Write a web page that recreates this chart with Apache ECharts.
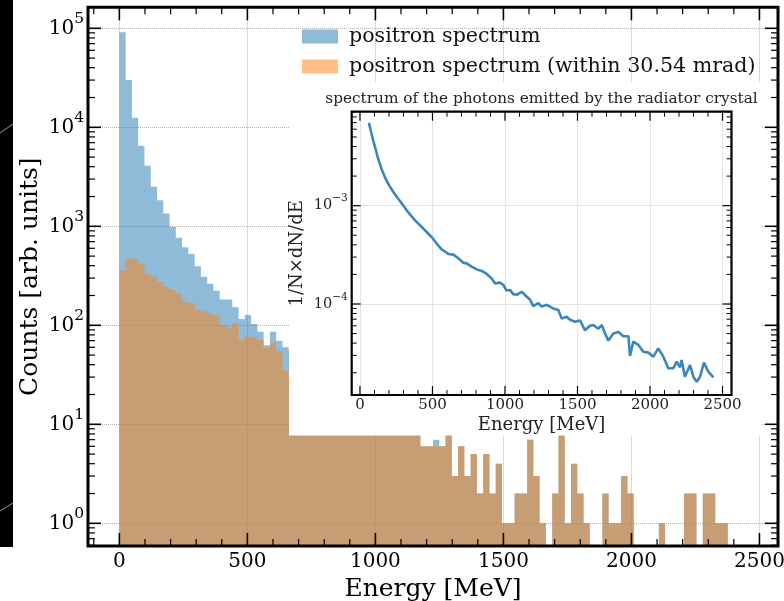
<!DOCTYPE html>
<html>
<head>
<meta charset="utf-8">
<script src="https://cdn.jsdelivr.net/npm/echarts@6.0.0/dist/echarts.min.js"></script>
<style>html,body{margin:0;padding:0;background:#fff;}#c{width:784px;height:601px;}</style>
</head>
<body>
<div id="c"></div>
<script>
// ---------------- data ----------------
const binWidth = 24.5;               // MeV, 100 bins from 0 to 2450 MeV
const seriesAllName = 'positron spectrum';
const seriesWithinName = 'positron spectrum (within 30.54 mrad)';

// counts per bin (all positrons)
const allCounts = [
  91200, 30100, 12500, 6520, 4090, 2510, 1830, 1350, 990, 767,
  614, 525, 395, 310, 263, 223, 182, 182, 152, 116,
  127, 103, 86, 63, 86, 70, 60, 55, 50, 46,
  44, 40, 37, 33, 31, 28, 26, 24, 22, 20,
  18, 17, 15, 14, 13, 12, 11, 10, 6, 6,
  7, 6, 9, 3, 6, 3, 5, 2, 5, 2,
  4, 1, 1, 2, 2, 7, 3, 1, 0, 2,
  8, 1, 4, 2, 1, 0, 0, 2, 1, 1,
  3, 2, 0, 0, 0, 0, 1, 0, 0, 0,
  2, 2, 0, 2, 2, 1, 1, 0, 0, 0
];
// counts per bin (within 30.54 mrad)
const withinCounts = [
  358, 470, 470, 420, 330, 310, 270, 245, 228, 208,
  173, 168, 143, 138, 133, 127, 100, 95, 105, 71,
  80, 76, 71, 59, 67, 55, 35, 34, 32, 30,
  28, 26, 24, 22, 21, 19, 18, 17, 16, 15,
  14, 13, 12, 11, 11, 10, 10, 9, 6, 6,
  6, 6, 9, 3, 6, 3, 5, 2, 5, 2,
  4, 1, 1, 2, 2, 7, 3, 1, 0, 2,
  8, 1, 4, 2, 1, 0, 0, 2, 1, 1,
  3, 2, 0, 0, 0, 0, 1, 0, 0, 0,
  2, 2, 0, 2, 2, 1, 1, 0, 0, 0
];

// inset: photon spectrum 1/N dN/dE
const photonEnergy = [
  62, 75, 90, 105, 125, 150, 175, 200, 230, 260,
  300, 340, 380, 420, 460, 500, 530, 563, 609, 644,
  678, 713, 736, 770, 805, 839, 874, 908, 931, 966,
  989, 1011, 1034, 1057, 1080, 1115, 1149, 1172, 1195, 1230,
  1253, 1287, 1333, 1368, 1391, 1425, 1448, 1483, 1517, 1552,
  1586, 1609, 1644, 1667, 1690, 1713, 1747, 1782, 1816, 1851,
  1862, 1885, 1920, 1954, 1989, 2023, 2057, 2092, 2126, 2161,
  2184, 2207, 2218, 2241, 2276, 2299, 2322, 2345, 2372, 2402, 2437
];
const photonValue = [
  6.98e-3, 5.75e-3, 4.68e-3, 3.89e-3, 3.02e-3, 2.34e-3, 1.91e-3, 1.62e-3, 1.38e-3, 1.20e-3,
  1.00e-3, 8.3e-4, 7.1e-4, 6.2e-4, 5.4e-4, 4.7e-4, 4.1e-4, 3.6e-4, 3.23e-4, 3.18e-4,
  2.92e-4, 2.63e-4, 2.59e-4, 2.40e-4, 2.25e-4, 2.17e-4, 2.02e-4, 1.82e-4, 1.62e-4, 1.65e-4,
  1.56e-4, 1.37e-4, 1.39e-4, 1.26e-4, 1.24e-4, 1.33e-4, 1.19e-4, 1.11e-4, 9.5e-5, 1.02e-4,
  9.4e-5, 9.8e-5, 9.0e-5, 8.7e-5, 7.1e-5, 7.4e-5, 6.9e-5, 6.6e-5, 6.8e-5, 5.4e-5,
  6.0e-5, 6.1e-5, 5.6e-5, 6.1e-5, 5.0e-5, 4.24e-5, 5.0e-5, 5.2e-5, 4.7e-5, 4.7e-5,
  2.96e-5, 4.14e-5, 3.83e-5, 3.27e-5, 3.2e-5, 2.91e-5, 3.54e-5, 2.91e-5, 2.22e-5, 2.22e-5,
  2.59e-5, 2.27e-5, 2.69e-5, 1.82e-5, 2.39e-5, 1.82e-5, 1.62e-5, 1.82e-5, 2.53e-5, 2.05e-5, 1.79e-5
];

// tick labels
const mainXTicks = [0, 500, 1000, 1500, 2000, 2500];
const mainYTickExps = [0, 1, 2, 3, 4, 5];
const insetXTicks = [0, 500, 1000, 1500, 2000, 2500];
const insetYTickExps = [-4, -3];

// ---------------- layout / styles ----------------
const FONT = "'DejaVu Serif', serif";
const MAIN_X_RANGE = [-122.5, 2572.5];
const MAIN_Y_RANGE = [0.59, 163000];
const INSET_X_RANGE = [-57, 2562];
const INSET_Y_RANGE = [1.186e-5, 9.04e-3];

function linMinor(range, step, majors) {
  const out = [];
  for (let v = Math.ceil(range[0] / step) * step; v <= range[1]; v += step) {
    if (!majors.includes(v)) out.push(v);
  }
  return out;
}
function logMinor(range) {
  const out = [];
  for (let d = Math.floor(Math.log10(range[0])); d <= Math.ceil(Math.log10(range[1])); d++) {
    for (let m = 2; m <= 9; m++) {
      const v = m * Math.pow(10, d);
      if (v >= range[0] && v <= range[1]) out.push(v);
    }
  }
  return out;
}
function powLabel(v, exps) {
  const e = Math.log10(v), r = Math.round(e);
  if (Math.abs(e - r) > 1e-6 || !exps.includes(r)) return '';
  return '{b|10}{s|' + String(r).replace('-', '\u2212') + '}';
}

function histSeries(name, counts, color) {
  return {
    name: name, type: 'custom', xAxisIndex: 0, yAxisIndex: 0, z: 2, silent: true,
    itemStyle: { color: color, opacity: 0.5 },
    data: counts.map((c, i) => [i * binWidth, (i + 1) * binWidth, c]),
    encode: { x: [0, 1], y: 2 },
    renderItem: function (params, api) {
      if (params.dataIndexInside !== 0) return null;
      const cs = params.coordSys;
      const base = cs.y + cs.height;
      const n = params.dataInsideLength;
      const pts = [];
      let lastX = 0;
      for (let i = 0; i < n; i++) {
        const x0 = api.value(0, i), x1 = api.value(1, i), c = api.value(2, i);
        const p0 = api.coord([x0, MAIN_Y_RANGE[0]]);
        const p1 = api.coord([x1, MAIN_Y_RANGE[0]]);
        const top = c > 0 ? api.coord([x0, c])[1] : base;
        if (i === 0) pts.push([p0[0], base]);
        pts.push([p0[0], top], [p1[0], top]);
        lastX = p1[0];
      }
      pts.push([lastX, base]);
      return { type: 'polygon', shape: { points: pts }, style: { fill: color, opacity: 0.5 } };
    }
  };
}

function frameSeries(xi, yi, spec) {
  return {
    type: 'custom', xAxisIndex: xi, yAxisIndex: yi, z: spec.z, silent: true, clip: false,
    data: [[spec.xRef, spec.yRef]],
    renderItem: function (params, api) {
      const cs = params.coordSys;
      const L = cs.x, T = cs.y, R = cs.x + cs.width, B = cs.y + cs.height;
      const ch = [];
      const ln = (x1, y1, x2, y2, w) => ch.push({ type: 'line', shape: { x1, y1, x2, y2 }, style: { stroke: '#000', lineWidth: w } });
      const xt = (vals, len, w) => vals.forEach(v => { const px = api.coord([v, spec.yRef])[0]; ln(px, B, px, B - len, w); ln(px, T, px, T + len, w); });
      const yt = (vals, len, w) => vals.forEach(v => { const py = api.coord([spec.xRef, v])[1]; ln(L, py, L + len, py, w); ln(R, py, R - len, py, w); });
      xt(spec.xMajor, spec.majLen, spec.majW);
      xt(spec.xMinor, spec.minLen, spec.minW);
      yt(spec.yMajor, spec.majLen, spec.majW);
      yt(spec.yMinor, spec.minLen, spec.minW);
      ch.push({ type: 'rect', shape: { x: L, y: T, width: R - L, height: B - T }, style: { fill: 'none', stroke: '#000', lineWidth: spec.frameW } });
      return { type: 'group', children: ch };
    }
  };
}

const mainYMajor = mainYTickExps.map(e => Math.pow(10, e));
const insetYMajor = insetYTickExps.map(e => Math.pow(10, e));

const option = {
  animation: false,
  backgroundColor: '#fff',
  textStyle: { fontFamily: FONT },
  title: {
    text: 'spectrum of the photons emitted by the radiator crystal',
    left: 541.5, top: 92, textAlign: 'center', padding: 0, z: 6,
    textStyle: { fontFamily: FONT, fontSize: 15.3, fontWeight: 'normal', color: '#222' }
  },
  legend: {
    orient: 'vertical', left: 302, top: 25.5, itemWidth: 36, itemHeight: 14, itemGap: 8, padding: 0,
    icon: 'rect', selectedMode: false,
    textStyle: { fontFamily: FONT, fontSize: 20.6, color: '#111', lineHeight: 22, padding: [0, 0, 0, 6] },
    data: [
      { name: seriesAllName, itemStyle: { color: '#8fbbd9', opacity: 1 } },
      { name: seriesWithinName, itemStyle: { color: '#ffbf86', opacity: 1 } }
    ]
  },
  grid: [
    { left: 88, top: 7.3, width: 690, height: 538.7, containLabel: false, outerBoundsMode: 'none' },
    { left: 351.7, top: 111.7, width: 379.8, height: 283.3, containLabel: false, outerBoundsMode: 'none' }
  ],
  xAxis: [
    {
      gridIndex: 0, type: 'value', min: MAIN_X_RANGE[0], max: MAIN_X_RANGE[1], z: 0,
      axisLine: { show: false }, axisTick: { show: false }, minorTick: { show: false },
      axisLabel: { formatter: v => (mainXTicks.includes(v) ? String(v) : ''), fontFamily: FONT, fontSize: 20, color: '#000', margin: 6 },
      splitLine: { show: true, lineStyle: { type: 'dotted', color: '#b4b4b4', width: 1 } },
      name: 'Energy [MeV]', nameLocation: 'middle', nameGap: 29,
      nameTextStyle: { fontFamily: FONT, fontSize: 25, color: '#000' }
    },
    {
      gridIndex: 1, type: 'value', min: INSET_X_RANGE[0], max: INSET_X_RANGE[1], z: 6,
      axisLine: { show: false }, axisTick: { show: false }, minorTick: { show: false },
      axisLabel: { formatter: v => (insetXTicks.includes(v) ? String(v) : ''), fontFamily: FONT, fontSize: 15, color: '#222', margin: 3 },
      splitLine: { show: true, lineStyle: { type: 'solid', color: '#e4e4e4', width: 1 } },
      name: 'Energy [MeV]', nameLocation: 'middle', nameGap: 21,
      nameTextStyle: { fontFamily: FONT, fontSize: 18, color: '#222' }
    }
  ],
  yAxis: [
    {
      gridIndex: 0, type: 'log', logBase: 10, min: MAIN_Y_RANGE[0], max: MAIN_Y_RANGE[1], z: 0,
      axisLine: { show: false }, axisTick: { show: false }, minorTick: { show: false },
      axisLabel: {
        formatter: v => powLabel(v, mainYTickExps), margin: 4,
        rich: {
          b: { fontFamily: FONT, fontSize: 20, lineHeight: 20, verticalAlign: 'bottom', color: '#000' },
          s: { fontFamily: FONT, fontSize: 15.5, lineHeight: 15, padding: [0, 0, 11, 0], verticalAlign: 'bottom', color: '#000' }
        }
      },
      splitLine: { show: true, lineStyle: { type: 'dotted', color: '#b4b4b4', width: 1 } },
      name: 'Counts [arb. units]', nameLocation: 'middle', nameGap: 45, nameMoveOverlap: false,
      nameTextStyle: { fontFamily: FONT, fontSize: 25, color: '#000' }
    },
    {
      gridIndex: 1, type: 'log', logBase: 10, min: INSET_Y_RANGE[0], max: INSET_Y_RANGE[1], z: 6,
      axisLine: { show: false }, axisTick: { show: false }, minorTick: { show: false },
      axisLabel: {
        formatter: v => powLabel(v, insetYTickExps), margin: 4,
        rich: {
          b: { fontFamily: FONT, fontSize: 14.5, lineHeight: 15, verticalAlign: 'bottom', color: '#222' },
          s: { fontFamily: FONT, fontSize: 10.5, lineHeight: 11, padding: [0, 0, 9, 0], verticalAlign: 'bottom', color: '#222' }
        }
      },
      splitLine: { show: true, lineStyle: { type: 'solid', color: '#e4e4e4', width: 1 } },
      name: '1/N\u00d7dN/dE', nameLocation: 'middle', nameGap: 45, nameMoveOverlap: false,
      nameTextStyle: { fontFamily: FONT, fontSize: 18, color: '#222' }
    }
  ],
  graphic: {
    elements: [
      // white background of the inset (covers the main plot behind it)
      { type: 'rect', shape: { x: 289, y: 83, width: 473, height: 352.5 }, style: { fill: '#fff' }, z: 5, silent: true },
      // black strip at the left edge of the picture
      { type: 'rect', shape: { x: 0, y: 0, width: 13, height: 547 }, style: { fill: '#000' }, z: 1, silent: true },
      { type: 'line', shape: { x1: 0, y1: 133, x2: 13, y2: 124 }, style: { stroke: '#9a9a9a', lineWidth: 1 }, z: 1, silent: true },
      { type: 'line', shape: { x1: 0, y1: 511, x2: 13, y2: 503 }, style: { stroke: '#9a9a9a', lineWidth: 1 }, z: 1, silent: true }
    ]
  },
  series: [
    histSeries(seriesAllName, allCounts, '#1f77b4'),
    histSeries(seriesWithinName, withinCounts, '#ff7f0e'),
    frameSeries(0, 0, {
      z: 10, xRef: 0, yRef: MAIN_Y_RANGE[0],
      xMajor: mainXTicks, xMinor: linMinor(MAIN_X_RANGE, 100, mainXTicks),
      yMajor: mainYMajor, yMinor: logMinor(MAIN_Y_RANGE),
      majLen: 13, minLen: 7, majW: 1.6, minW: 1.2, frameW: 3
    }),
    {
      type: 'line', xAxisIndex: 1, yAxisIndex: 1, z: 7, silent: true,
      showSymbol: false, symbol: 'none',
      lineStyle: { color: '#3a86bd', width: 2.6 },
      data: photonEnergy.map((e, i) => [e, photonValue[i]])
    },
    frameSeries(1, 1, {
      z: 8, xRef: 0, yRef: INSET_Y_RANGE[0],
      xMajor: insetXTicks, xMinor: linMinor(INSET_X_RANGE, 100, insetXTicks),
      yMajor: insetYMajor, yMinor: logMinor(INSET_Y_RANGE),
      majLen: 9, minLen: 5, majW: 1.2, minW: 1, frameW: 2.2
    })
  ]
};

const chart = echarts.init(document.getElementById('c'), null, { renderer: 'canvas', width: 784, height: 601 });
chart.setOption(option);
</script>
</body>
</html>
